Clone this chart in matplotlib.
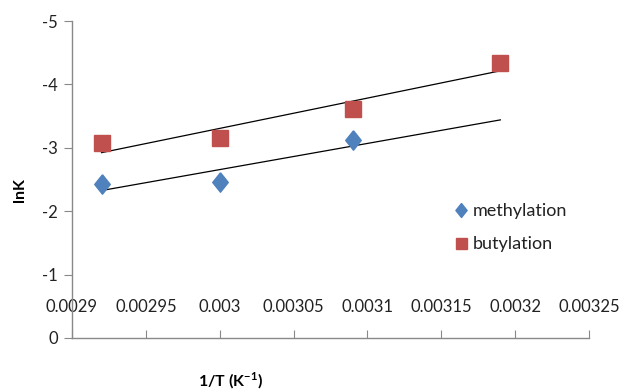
import numpy as np
import matplotlib
matplotlib.use("Agg")
import matplotlib.pyplot as plt

plt.rcParams['font.family'] = ['Lato', 'DejaVu Sans']
plt.rcParams['axes.unicode_minus'] = False

# Data
meth_x = [0.00292, 0.00300, 0.00309]
meth_y = [-2.43, -2.46, -3.12]
buty_x = [0.00292, 0.00300, 0.00309, 0.00319]
buty_y = [-3.08, -3.15, -3.61, -4.34]
x_ticks = [0.0029, 0.00295, 0.003, 0.00305, 0.0031, 0.00315, 0.0032, 0.00325]
x_tick_labels = ["0.0029", "0.00295", "0.003", "0.00305", "0.0031", "0.00315", "0.0032", "0.00325"]
y_ticks = [0, -1, -2, -3, -4, -5]
y_tick_labels = ["0", "-1", "-2", "-3", "-4", "-5"]

blue = "#4F81BD"
red = "#C0504D"
grey = "#898989"

diamond = [(0, 1), (0.8, 0), (0, -1), (-0.8, 0), (0, 1)]

fig = plt.figure(figsize=(6.23, 3.92), dpi=100)
ax = fig.add_axes([72/623, 1-338/392, (589-72)/623, (338-21)/392])

# trendlines (linear fits), methylation forecast forward to last butylation x
trend_end = max(buty_x)
for xs, ys in [(meth_x, meth_y), (buty_x, buty_y)]:
    k, b = np.polyfit(xs, ys, 1)
    xx = np.array([min(xs), trend_end])
    ax.plot(xx, k*xx + b, color="black", lw=0.9, zorder=2)

ax.plot(meth_x, meth_y, linestyle="none", marker=diamond, markersize=14, color=blue,
        label="methylation", zorder=3)
ax.plot(buty_x, buty_y, linestyle="none", marker="s", markersize=11, color=red,
        label="butylation", zorder=3)

ax.set_xlim(0.0029, 0.00325)
ax.set_ylim(0, -5)
ax.set_xticks(x_ticks)
ax.set_xticklabels(x_tick_labels)
ax.set_yticks(y_ticks)
ax.set_yticklabels(y_tick_labels)

for s in ["top", "right"]:
    ax.spines[s].set_visible(False)
for s in ["left", "bottom"]:
    ax.spines[s].set_color(grey)
    ax.spines[s].set_linewidth(1.0)

ax.tick_params(axis="x", direction="in", length=6, color=grey, labelsize=12,
               pad=-28, labelcolor="#222222")
ax.tick_params(axis="y", direction="out", length=6, color=grey, labelsize=12,
               pad=4, labelcolor="#222222")

fig.text(231/623, 1-381/392, "1/T (K$^{\\mathregular{-1}}$)", ha="center", va="center",
         fontsize=11.5, fontweight="bold")
fig.text(20/623, 1-190/392, "lnK", ha="center", va="center", rotation=90,
         fontsize=11.5, fontweight="bold")

leg = ax.legend(loc="upper left", bbox_to_anchor=(455/623, 1-203/392),
                bbox_transform=fig.transFigure, frameon=False, fontsize=13,
                handlelength=0.7, handletextpad=0.3, labelspacing=0.95,
                borderaxespad=0, borderpad=0, markerscale=0.72)
for t in leg.get_texts():
    t.set_color("#222222")

fig.savefig("out.png", dpi=100)
